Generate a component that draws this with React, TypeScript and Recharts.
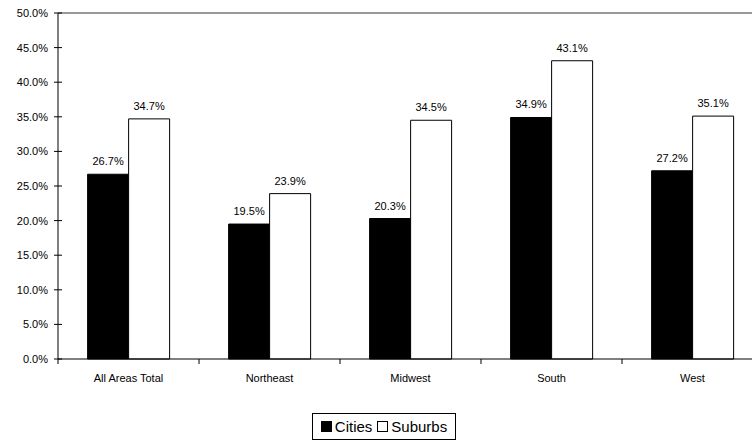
import {
  BarChart,
  Bar,
  XAxis,
  YAxis,
  Legend,
  LabelList,
  ReferenceLine,
} from "recharts"

const areas = ["All Areas Total", "Northeast", "Midwest", "South", "West"]
const cities = [26.7, 19.5, 20.3, 34.9, 27.2]
const suburbs = [34.7, 23.9, 34.5, 43.1, 35.1]
const yTicks = [0, 5, 10, 15, 20, 25, 30, 35, 40, 45, 50]

const data = areas.map((area, i) => ({
  area,
  cities: cities[i],
  suburbs: suburbs[i],
}))

const FONT = "'Liberation Sans', Arial, sans-serif"
const CHART_W = 770
const Y_W = 58
const RIGHT = 7
const BAND = (CHART_W - Y_W - RIGHT) / areas.length

// y ticks in this chart cross the axis line
function YTick(props: any) {
  const { x, y, payload } = props
  return (
    <g>
      <line x1={x + 4} x2={x + 12} y1={y} y2={y} stroke="#000" />
      <text x={x - 2} y={y} dy={4} textAnchor="end" fontSize={11} fill="#000" fontFamily={FONT}>
        {payload.value.toFixed(1)}%
      </text>
    </g>
  )
}

// category ticks sit between the groups, labels in the middle
function XTick(props: any) {
  const { x, y, payload, index } = props
  const left = x - BAND / 2
  return (
    <g>
      <line x1={left} x2={left} y1={y - 8} y2={y - 3} stroke="#000" />
      {index === areas.length - 1 && (
        <line x1={left + BAND} x2={left + BAND} y1={y - 8} y2={y - 3} stroke="#000" />
      )}
      <text x={x} y={y} dy={15} textAnchor="middle" fontSize={11} fill="#000" fontFamily={FONT}>
        {payload.value}
      </text>
    </g>
  )
}

function LegendBox() {
  const sq = (fill: string) => (
    <span
      style={{
        display: "inline-block",
        width: 9,
        height: 9,
        background: fill,
        border: "1px solid #000",
        marginRight: 3,
      }}
    />
  )
  return (
    <div
      style={{
        border: "1px solid #000",
        width: 142,
        height: 25,
        boxSizing: "content-box",
        display: "flex",
        alignItems: "center",
        justifyContent: "center",
        fontFamily: FONT,
        fontSize: 15,
        color: "#000",
        lineHeight: "25px",
      }}
    >
      {sq("#000")}
      <span style={{ marginRight: 5 }}>Cities</span>
      {sq("#fff")}
      <span>Suburbs</span>
    </div>
  )
}

const pct = (v: any) => `${Number(v).toFixed(1)}%`

export default function App() {
  return (
    <div
      style={{
        position: "absolute",
        left: 0,
        top: 0,
        width: 752,
        height: 440,
        overflow: "hidden",
        background: "#fff",
      }}
    >
      <BarChart
        width={CHART_W}
        height={440}
        data={data}
        margin={{ top: 13, right: RIGHT, left: 0, bottom: 0 }}
        barCategoryGap="21%"
        barGap={0}
      >
        <XAxis
          dataKey="area"
          height={54}
          axisLine={{ stroke: "#000" }}
          tickLine={false}
          tick={<XTick />}
          interval={0}
        />
        <YAxis
          width={Y_W}
          domain={[0, 50]}
          ticks={yTicks}
          axisLine={{ stroke: "#000" }}
          tickLine={false}
          tick={<YTick />}
        />
        <ReferenceLine y={50} stroke="#777" strokeWidth={1.5} />
        <Legend
          verticalAlign="bottom"
          content={<LegendBox />}
          wrapperStyle={{ left: 312, width: 144, height: 27 }}
        />
        <Bar dataKey="cities" name="Cities" fill="#000" stroke="#000" isAnimationActive={false}>
          <LabelList dataKey="cities" position="top" offset={9} formatter={pct} fontSize={11} fill="#000" fontFamily={FONT} />
        </Bar>
        <Bar dataKey="suburbs" name="Suburbs" fill="#fff" stroke="#000" isAnimationActive={false}>
          <LabelList dataKey="suburbs" position="top" offset={9} formatter={pct} fontSize={11} fill="#000" fontFamily={FONT} />
        </Bar>
      </BarChart>
    </div>
  )
}
